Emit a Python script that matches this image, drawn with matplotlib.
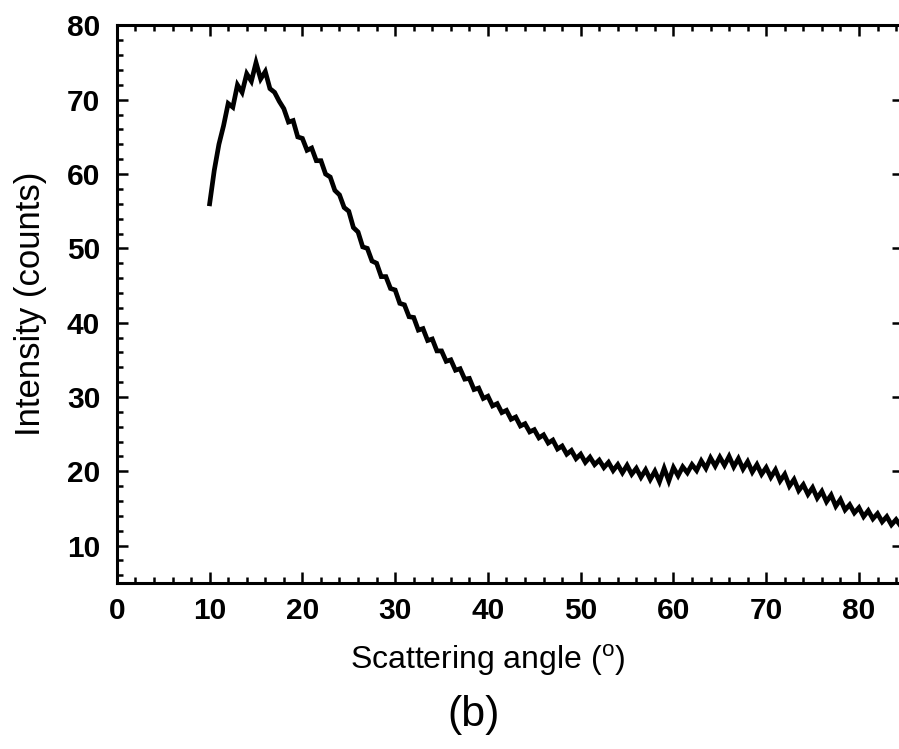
import matplotlib
matplotlib.use("Agg")
import matplotlib.pyplot as plt
from matplotlib.ticker import MultipleLocator

plt.rcParams["font.family"] = ["Liberation Sans", "DejaVu Sans"]

# scattering angle (deg) and intensity (counts)
angle = [
    10.0, 10.5, 11.0, 11.5, 12.0, 12.5, 13.0, 13.5, 14.0, 14.5,
    15.0, 15.5, 16.0, 16.5, 17.0, 17.5, 18.0, 18.5, 19.0, 19.5,
    20.0, 20.5, 21.0, 21.5, 22.0, 22.5, 23.0, 23.5, 24.0, 24.5,
    25.0, 25.5, 26.0, 26.5, 27.0, 27.5, 28.0, 28.5, 29.0, 29.5,
    30.0, 30.5, 31.0, 31.5, 32.0, 32.5, 33.0, 33.5, 34.0, 34.5,
    35.0, 35.5, 36.0, 36.5, 37.0, 37.5, 38.0, 38.5, 39.0, 39.5,
    40.0, 40.5, 41.0, 41.5, 42.0, 42.5, 43.0, 43.5, 44.0, 44.5,
    45.0, 45.5, 46.0, 46.5, 47.0, 47.5, 48.0, 48.5, 49.0, 49.5,
    50.0, 50.5, 51.0, 51.5, 52.0, 52.5, 53.0, 53.5, 54.0, 54.5,
    55.0, 55.5, 56.0, 56.5, 57.0, 57.5, 58.0, 58.5, 59.0, 59.5,
    60.0, 60.5, 61.0, 61.5, 62.0, 62.5, 63.0, 63.5, 64.0, 64.5,
    65.0, 65.5, 66.0, 66.5, 67.0, 67.5, 68.0, 68.5, 69.0, 69.5,
    70.0, 70.5, 71.0, 71.5, 72.0, 72.5, 73.0, 73.5, 74.0, 74.5,
    75.0, 75.5, 76.0, 76.5, 77.0, 77.5, 78.0, 78.5, 79.0, 79.5,
    80.0, 80.5, 81.0, 81.5, 82.0, 82.5, 83.0, 83.5, 84.0, 84.4,
]
intensity = [
    56.0, 60.5, 64.0, 66.5, 69.5, 69.0, 72.0, 71.0, 73.5, 72.5,
    75.0, 72.8, 73.8, 71.5, 71.0, 69.8, 68.8, 67.0, 67.2, 65.0,
    64.8, 63.2, 63.5, 61.8, 61.8, 60.0, 59.6, 57.8, 57.2, 55.5,
    55.0, 52.8, 52.2, 50.2, 50.0, 48.3, 48.0, 46.2, 46.2, 44.6,
    44.4, 42.6, 42.4, 40.8, 40.7, 39.0, 39.2, 37.6, 37.8, 36.2,
    36.2, 34.8, 35.0, 33.6, 33.8, 32.4, 32.5, 31.0, 31.2, 29.8,
    30.1, 28.8, 29.1, 27.9, 28.2, 27.0, 27.3, 26.1, 26.4, 25.3,
    25.6, 24.5, 24.9, 23.8, 24.2, 23.0, 23.4, 22.3, 22.8, 21.7,
    22.3, 21.2, 21.9, 20.9, 21.5, 20.5, 21.2, 20.1, 20.9, 19.8,
    20.8, 19.6, 20.4, 19.2, 20.2, 18.9, 20.0, 18.6, 20.4, 18.7,
    20.5, 19.4, 20.6, 19.8, 20.9, 20.1, 21.4, 20.4, 21.8, 20.7,
    21.9, 20.8, 22.0, 20.6, 21.7, 20.3, 21.3, 19.9, 20.9, 19.6,
    20.5, 19.2, 20.2, 18.7, 19.6, 18.0, 18.9, 17.4, 18.2, 16.9,
    17.8, 16.4, 17.3, 15.9, 16.8, 15.3, 16.2, 14.8, 15.5, 14.4,
    15.1, 13.9, 14.7, 13.6, 14.3, 13.2, 13.9, 12.8, 13.5, 12.8,
]

fig = plt.figure(figsize=(8.99, 7.49), dpi=100)
# right edge sits just past the figure, as in the cropped original
ax = fig.add_axes([0.130, 0.222, 0.875, 0.744])

ax.plot(angle, intensity, color="black", linewidth=3.4, solid_joinstyle="miter")

ax.set_xlim(0, 84.8)
ax.set_ylim(5, 80)
ax.xaxis.set_major_locator(MultipleLocator(10))
ax.xaxis.set_minor_locator(MultipleLocator(2))
ax.yaxis.set_minor_locator(MultipleLocator(2))
ax.set_yticks(range(10, 81, 10))

for s in ax.spines.values():
    s.set_linewidth(2.2)

ax.tick_params(which="both", direction="in", top=True, width=1.8)
ax.tick_params(which="major", length=8, right=True)
ax.tick_params(which="minor", length=4.5, right=False)
ax.tick_params(axis="x", pad=10, labelsize=21.5)
ax.tick_params(axis="y", pad=12, labelsize=21.5)
for lab in ax.get_xticklabels() + ax.get_yticklabels():
    lab.set_fontweight("bold")

fig.text(0.542, 0.119, r"Scattering angle ($^\mathregular{o}$)", ha="center",
         va="center", fontsize=23)
fig.text(0.527, 0.045, "(b)", ha="center", va="center", fontsize=31)
fig.text(0.034, 0.594, "Intensity (counts)", rotation=90, ha="center",
         va="center", fontsize=25)

fig.savefig("out.png", dpi=100)
